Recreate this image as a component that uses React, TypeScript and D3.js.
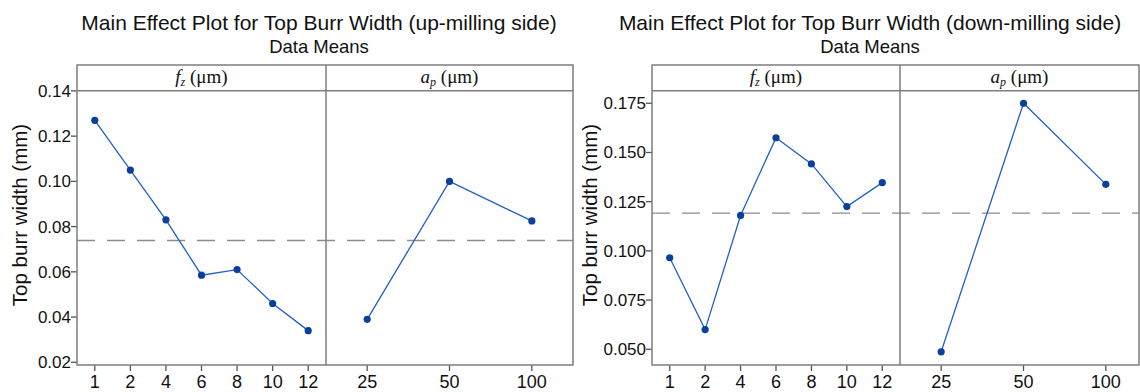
import React from "react";
import * as d3 from "d3";

// Factor levels
const fzLevels = ["1", "2", "4", "6", "8", "10", "12"];
const apLevels = ["25", "50", "100"];

// Mean top burr width (mm), up-milling side
const upFz = [0.127, 0.105, 0.083, 0.0585, 0.061, 0.046, 0.034];
const upAp = [0.039, 0.1, 0.0825];

// Mean top burr width (mm), down-milling side
const downFz = [0.0965, 0.06, 0.118, 0.1575, 0.1442, 0.1225, 0.1347];
const downAp = [0.0487, 0.175, 0.1338];

// Y-axis ticks
const upTicks = [0.02, 0.04, 0.06, 0.08, 0.1, 0.12, 0.14];
const downTicks = [0.05, 0.075, 0.1, 0.125, 0.15, 0.175];

const WIDTH = 1140;
const HEIGHT = 392;
const TOP = 65;
const STRIP = 90.7;
const BOTTOM = 365;

const SANS = "'Liberation Sans', Arial, Helvetica, sans-serif";
const SERIF = "'Liberation Serif', 'Times New Roman', serif";
const FRAME = "#7d7d7d";
const LINE = "#2160c4";
const DOT = "#0b3f9c";

type PanelProps = {
  levels: string[];
  values: number[];
  x0: number;
  x1: number;
  y: d3.ScaleLinear<number, number>;
  symbol: string;
  sub: string;
};

function Panel({ levels, values, x0, x1, y, symbol, sub }: PanelProps) {
  const x = d3.scalePoint<string>().domain(levels).range([x0, x1]).padding(0.5);
  const pts: [number, number][] = levels.map((l, i) => [x(l) as number, y(values[i])]);
  const line = d3.line()(pts) || "";
  const right = Math.min(x1, WIDTH - 1);
  const cx = (x0 + right) / 2;
  return (
    <g>
      <text
        x={cx}
        y={83}
        textAnchor="middle"
        fontFamily={SERIF}
        fontSize={19}
        fill="#111"
      >
        <tspan fontStyle="italic">{symbol}</tspan>
        <tspan fontStyle="italic" fontSize={12} dy={3}>
          {sub}
        </tspan>
        <tspan dy={-3}>{" (μm)"}</tspan>
      </text>
      {levels.map((l) => (
        <g key={l}>
          <line
            x1={x(l)}
            x2={x(l)}
            y1={BOTTOM}
            y2={BOTTOM + 6}
            stroke="#555"
            strokeWidth={1.3}
          />
          <text
            x={x(l)}
            y={388}
            textAnchor="middle"
            fontFamily={SANS}
            fontSize={18}
            fill="#111"
          >
            {l}
          </text>
        </g>
      ))}
      <path d={line} fill="none" stroke={LINE} strokeWidth={1.3} />
      {pts.map((p, i) => (
        <circle key={i} cx={p[0]} cy={p[1]} r={3.6} fill={DOT} />
      ))}
    </g>
  );
}

type ChartProps = {
  title: string;
  titleX: number;
  labelX: number;
  left: number;
  mid: number;
  right: number;
  yDomain: [number, number];
  ticks: number[];
  fmt: string;
  fz: number[];
  ap: number[];
};

function MainEffects({
  title,
  titleX,
  labelX,
  left,
  mid,
  right,
  yDomain,
  ticks,
  fmt,
  fz,
  ap,
}: ChartProps) {
  const y = d3.scaleLinear().domain(yDomain).range([BOTTOM, STRIP]);
  const format = d3.format(fmt);
  // overall mean of the response (balanced design)
  const grand = d3.mean(ap) as number;
  const frameRight = Math.min(right, WIDTH - 1);
  return (
    <g>
      <text
        x={titleX}
        y={29.5}
        textAnchor="middle"
        fontFamily={SANS}
        fontSize={21}
        fill="#111"
      >
        {title}
      </text>
      <text
        x={titleX}
        y={53}
        textAnchor="middle"
        fontFamily={SANS}
        fontSize={18.5}
        fill="#111"
      >
        Data Means
      </text>
      <text
        transform={`translate(${labelX},215) rotate(-90)`}
        textAnchor="middle"
        fontFamily={SANS}
        fontSize={20.5}
        fill="#111"
      >
        Top burr width (mm)
      </text>
      {ticks.map((t) => (
        <g key={t}>
          <line
            x1={left - 6}
            x2={left}
            y1={y(t)}
            y2={y(t)}
            stroke="#555"
            strokeWidth={1.3}
          />
          <text
            x={left - 6}
            y={y(t)}
            dy="0.35em"
            textAnchor="end"
            fontFamily={SANS}
            fontSize={17}
            fill="#111"
          >
            {format(t)}
          </text>
        </g>
      ))}
      <line
        x1={left}
        x2={frameRight}
        y1={y(grand)}
        y2={y(grand)}
        stroke="#8c8c8c"
        strokeWidth={1.4}
        strokeDasharray="18 12"
      />
      <Panel levels={fzLevels} values={fz} x0={left} x1={mid} y={y} symbol="f" sub="z" />
      <Panel levels={apLevels} values={ap} x0={mid} x1={right} y={y} symbol="a" sub="p" />
      <rect
        x={left}
        y={TOP}
        width={frameRight - left}
        height={BOTTOM - TOP}
        fill="none"
        stroke={FRAME}
        strokeWidth={1.5}
      />
      <line x1={left} x2={frameRight} y1={STRIP} y2={STRIP} stroke={FRAME} strokeWidth={1.5} />
      <line x1={mid} x2={mid} y1={TOP} y2={BOTTOM} stroke={FRAME} strokeWidth={1.5} />
    </g>
  );
}

export default function App() {
  return (
    <div style={{ position: "absolute", left: 0, top: 0 }}>
      <svg width={WIDTH} height={HEIGHT} style={{ display: "block", background: "#fff" }}>
        <MainEffects
          title="Main Effect Plot for Top Burr Width (up-milling side)"
          titleX={319}
          labelX={27}
          left={77}
          mid={326}
          right={573}
          yDomain={[0.0188, 0.1401]}
          ticks={upTicks}
          fmt=".2f"
          fz={upFz}
          ap={upAp}
        />
        <MainEffects
          title="Main Effect Plot for Top Burr Width (down-milling side)"
          titleX={870}
          labelX={597}
          left={652}
          mid={900}
          right={1147}
          yDomain={[0.042, 0.1814]}
          ticks={downTicks}
          fmt=".3f"
          fz={downFz}
          ap={downAp}
        />
      </svg>
    </div>
  );
}
